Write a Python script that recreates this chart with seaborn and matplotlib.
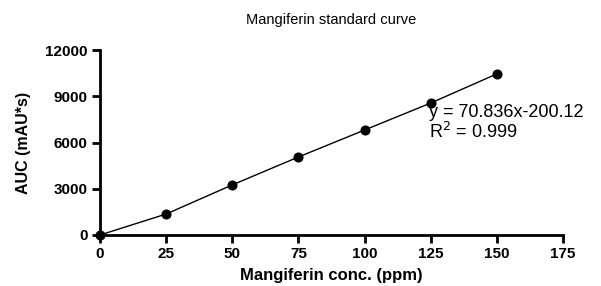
import matplotlib
matplotlib.use("Agg")
import matplotlib.pyplot as plt
import seaborn as sns
import pandas as pd

conc = [0, 25, 50, 75, 100, 125, 150]
auc = [0, 1360, 3250, 5060, 6810, 8560, 10450]
x_ticks = [0, 25, 50, 75, 100, 125, 150, 175]
y_ticks = [0, 3000, 6000, 9000, 12000]

df = pd.DataFrame({"conc": conc, "auc": auc})

sns.set_theme(style="ticks", rc={"text.color": "black", "axes.labelcolor": "black",
                                 "xtick.color": "black", "ytick.color": "black",
                                 "axes.edgecolor": "black"})
plt.rcParams["font.family"] = ["Liberation Sans", "DejaVu Sans"]

fig = plt.figure(figsize=(6.01, 2.86), dpi=100)
ax = fig.add_axes([100 / 601, 1 - 235 / 286, 463 / 601, 185 / 286])

sns.lineplot(data=df, x="conc", y="auc", ax=ax, color="black", linewidth=1,
             marker="o", markersize=6.5, markeredgecolor="black", clip_on=False)

ax.set_xlim(0, 175)
ax.set_ylim(0, 12000)
ax.set_xticks(x_ticks)
ax.set_yticks(y_ticks)
ax.tick_params(width=2, length=6, labelsize=11, pad=3)
for lab in ax.get_xticklabels() + ax.get_yticklabels():
    lab.set_fontweight("bold")
for s in ["left", "bottom"]:
    ax.spines[s].set_linewidth(2)
sns.despine(ax=ax)

ax.set_xlabel("Mangiferin conc. (ppm)", fontsize=12, fontweight="bold", labelpad=5)
ax.set_ylabel("AUC (mAU*s)", fontsize=11.5, fontweight="bold", labelpad=10)
ax.set_title("Mangiferin standard curve", fontsize=10.5, pad=19)

ax.text(124.5, 7250, "y = 70.836x-200.12\nR$^2$ = 0.999", fontsize=13,
        va="center", ha="left", linespacing=1.05)

fig.savefig("out.png", dpi=100)
plt.close(fig)
